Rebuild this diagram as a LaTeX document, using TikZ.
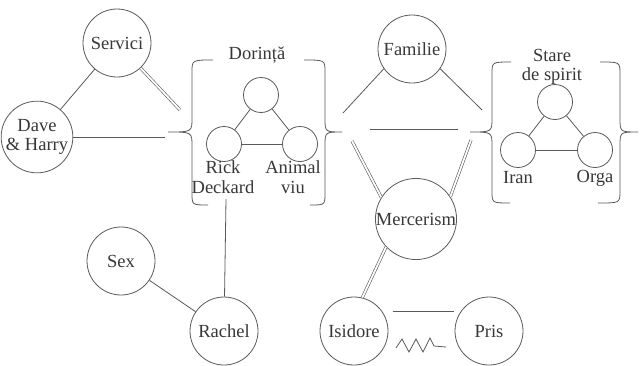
\documentclass[tikz,border=0pt]{standalone}
\usepackage{fontspec}
\setmainfont{Liberation Serif}
\definecolor{lnc}{HTML}{5A5A5A}
\definecolor{txc}{HTML}{383838}
\newcommand{\diagfont}{\fontsize{18.5}{19.5}\selectfont}
% left brace: #1 xv, #2 xt, #3 yt, #4 ym, #5 yb, #6 top hook x, #7 bottom hook x
\newcommand{\leftbrc}[7]{%
  \draw[brc] (#6,#3) .. controls (#1,#3) .. (#1,#3+12) -- (#1,#4-14)
    .. controls (#1,#4) .. (#2,#4) .. controls (#1,#4) .. (#1,#4+14)
    -- (#1,#5-12) .. controls (#1,#5) .. (#7,#5);}
\begin{document}
\begin{tikzpicture}[x=1pt,y=-1pt,
  ln/.style={draw=lnc, line width=0.8pt},
  dbl/.style={draw=lnc, line width=0.6pt, double=white, double distance=1.8pt},
  big/.style={circle, draw=lnc, line width=0.8pt, minimum size=68pt, inner sep=0pt, text=txc, font=\diagfont, align=center},
  small/.style={circle, draw=lnc, line width=0.8pt, minimum size=35pt, inner sep=0pt},
  lbl/.style={text=txc, font=\diagfont, align=center, inner sep=0pt},
  brc/.style={draw=lnc, line width=0.8pt}]
\path[use as bounding box, fill=white] (0,0) rectangle (642,365);

% big circles
\node[big] (serv) at (117,43) {Servici};
\node[big] (dave) at (37,137) {Dave\\\& Harry};
\node[big] (fam) at (412,49) {Familie};
\node[big] (merc) at (416,219) {Mercerism};
\node[big] (sex) at (121,261) {Sex};
\node[big] (rach) at (224,331) {Rachel};
\node[big] (isid) at (354,331) {Isidore};
\node[big] (pris) at (489,331) {Pris};

% Dorinta group
\node[lbl] (dlab) at (257,55) {Dorință};
\node[small] (dtop) at (261,95) {};
\node[small] (drick) at (224,144) {};
\node[small] (danim) at (300,144) {};
\node[lbl] (rlab) at (223,177) {Rick\\Deckard};
\node[lbl] (alab) at (293,177) {Animal\\viu};
\draw[ln] (dtop) -- (drick);
\draw[ln] (dtop) -- (danim);
\draw[ln] (drick) -- (danim);
\leftbrc{192}{168}{60}{132}{205}{213}{208}
\leftbrc{325}{342}{60}{132}{205}{304}{310}

% Stare de spirit group
\node[lbl] (slab) at (552,67) {Stare\\de spirit};
\node[small] (stop) at (555,102) {};
\node[small] (siran) at (518,150) {};
\node[small] (sorga) at (595,150) {};
\node[lbl] (ilab) at (518,178) {Iran};
\node[lbl] (olab) at (595,178) {Orga};
\draw[ln] (stop) -- (siran);
\draw[ln] (stop) -- (sorga);
\draw[ln] (siran) -- (sorga);
\leftbrc{492}{470}{62}{132}{203}{511}{510}
\leftbrc{620}{638}{62}{132}{203}{600}{598}

% free connector ends
\coordinate (sdend) at (180,110);
\coordinate (dlend) at (165,137);
\coordinate (rdk) at (226,199);
\coordinate (fl) at (343,113);
\coordinate (fr) at (482,110);
\coordinate (hl1) at (370,129);
\coordinate (hl2) at (458,129);
\coordinate (ml) at (352,141);
\coordinate (mr) at (471,140);

% connectors
\draw[ln] (serv) -- (dave);
\draw[dbl] (serv) -- (sdend);
\draw[ln] (dave) -- (dlend);
\draw[ln] (rdk) -- (rach);
\draw[ln] (sex) -- (rach);
\draw[ln] (fam.215) -- (fl);
\draw[ln] (fam.-35) -- (fr);
\draw[ln] (hl1) -- (hl2);
\draw[dbl] (ml) -- (merc.148);
\draw[dbl] (mr) -- (merc.33);
\draw[dbl] (merc.223) -- (isid.76);
\draw[ln, shorten <=10pt, shorten >=6pt] (isid.34) -- (pris.146);

% zigzag
\draw[ln, line join=miter] (396,348) -- (402,339) -- (409,352) -- (416,339)
  -- (423,352) -- (430,338) -- (434,346) -- (446,347);
\end{tikzpicture}
\end{document}
